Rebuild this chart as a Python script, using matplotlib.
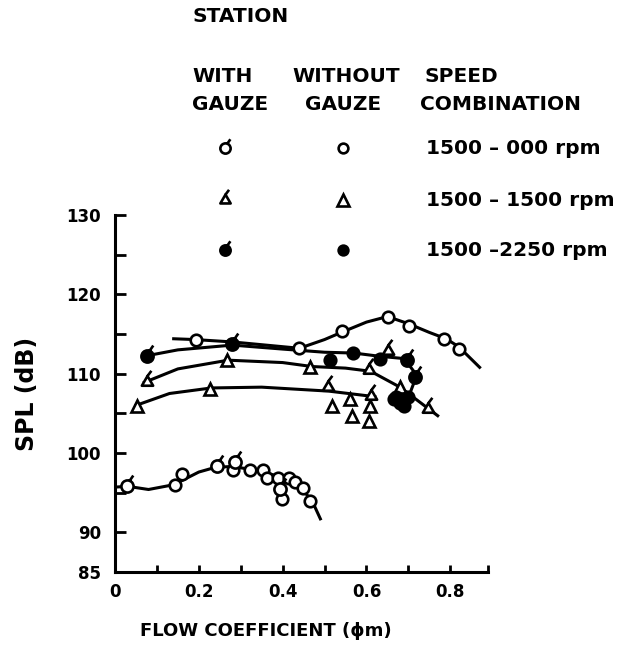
import numpy as np
import matplotlib.pyplot as plt
from matplotlib.path import Path
from matplotlib.lines import Line2D

# ---- faired curves (flow coefficient, SPL dB) ----
hi000_cx = [0.14, 0.19, 0.28, 0.36, 0.44, 0.50, 0.54, 0.60, 0.65, 0.70, 0.75, 0.79, 0.82, 0.87]
hi000_cy = [114.4, 114.3, 114.0, 113.6, 113.2, 114.3, 115.2, 116.5, 117.2, 116.3, 115.2, 114.4, 113.4, 110.8]

lo000_cx = [0.0, 0.03, 0.08, 0.14, 0.20, 0.24, 0.28, 0.34, 0.40, 0.44, 0.47, 0.49]
lo000_cy = [95.7, 95.8, 95.4, 96.0, 97.6, 98.2, 98.3, 97.8, 96.9, 95.8, 94.0, 91.7]

hi1500_cx = [0.07, 0.15, 0.27, 0.40, 0.47, 0.55, 0.61, 0.68, 0.75, 0.77]
hi1500_cy = [108.9, 110.6, 111.7, 111.4, 110.9, 110.7, 110.3, 108.3, 105.5, 104.7]

lo1500_cx = [0.05, 0.13, 0.23, 0.35, 0.51, 0.62]
lo1500_cy = [106.0, 107.5, 108.2, 108.3, 107.8, 107.1]

s2250_cx = [0.07, 0.15, 0.28, 0.40, 0.50, 0.57, 0.63, 0.69, 0.72, 0.70]
s2250_cy = [112.2, 113.0, 113.6, 113.1, 112.7, 112.6, 112.2, 111.9, 109.8, 107.0]

# ---- measured points ----
# 1500-000 rpm
c000_wo_x = [0.193, 0.44, 0.541, 0.652, 0.702, 0.786, 0.821,
             0.143, 0.159, 0.282, 0.322, 0.354, 0.362, 0.39, 0.398, 0.414, 0.43, 0.449, 0.465]
c000_wo_y = [114.3, 113.2, 115.4, 117.2, 116.0, 114.4, 113.1,
             96.0, 97.3, 97.9, 97.9, 97.9, 96.9, 96.9, 94.2, 96.9, 96.4, 95.6, 94.0]
c000_w_x = [0.028, 0.243, 0.286, 0.394]
c000_w_y = [95.8, 98.3, 98.9, 95.4]

# 1500-1500 rpm
c1500_wo_x = [0.267, 0.465, 0.68, 0.052, 0.227, 0.517, 0.561, 0.565, 0.609, 0.605]
c1500_wo_y = [111.7, 110.9, 108.3, 105.9, 108.1, 105.9, 106.8, 104.7, 105.9, 104.0]
c1500_w_x = [0.076, 0.605, 0.652, 0.748, 0.509, 0.61]
c1500_w_y = [108.9, 110.4, 112.9, 105.5, 108.3, 107.2]

# 1500-2250 rpm
c2250_wo_x = [0.513, 0.569, 0.632, 0.67, 0.68, 0.69, 0.70, 0.665]
c2250_wo_y = [111.7, 112.6, 111.9, 107.0, 106.3, 105.9, 107.1, 106.8]
c2250_w_x = [0.076, 0.279, 0.696, 0.716]
c2250_w_y = [112.2, 113.8, 111.7, 109.6]

legend_rows = ["1500 \u2013 000 rpm", "1500 \u2013 1500 rpm", "1500 \u20132250 rpm"]

# markers with the little "gauze" flag stroke
tail = Path([(0.35, 0.94), (0.95, 1.8)], [Path.MOVETO, Path.LINETO])
circ_flag = Path.make_compound_path(Path.unit_circle(), tail)
tri = Path([(0, 1.0), (-0.87, -0.5), (0.87, -0.5), (0, 1.0)],
           [Path.MOVETO, Path.LINETO, Path.LINETO, Path.CLOSEPOLY])
tri_flag = Path.make_compound_path(tri, Path([(0, 1.0), (0.6, 1.8)], [Path.MOVETO, Path.LINETO]))
FLAG = 1.9  # path is rescaled by its largest vertex

fig = plt.figure(figsize=(6.44, 6.47), dpi=100)
ax = fig.add_axes([115/644, 75/647, 373/644, 357/647])

lw = 2.2
for cx, cy in [(hi000_cx, hi000_cy), (lo000_cx, lo000_cy), (hi1500_cx, hi1500_cy),
               (lo1500_cx, lo1500_cy), (s2250_cx, s2250_cy)]:
    ax.plot(cx, cy, color='black', linewidth=lw, zorder=2)

ms = 8.3
mew = 1.9
ax.plot(c000_wo_x, c000_wo_y, 'o', ms=ms, mfc='white', mec='black', mew=mew, zorder=3)
ax.plot(c000_w_x, c000_w_y, linestyle='none', marker=circ_flag, ms=ms*FLAG, mfc='white', mec='black', mew=mew, zorder=3)
ax.plot(c1500_wo_x, c1500_wo_y, '^', ms=ms+1, mfc='white', mec='black', mew=mew, zorder=3)
ax.plot(c1500_w_x, c1500_w_y, linestyle='none', marker=tri_flag, ms=(ms+1)*FLAG*0.95, mfc='white', mec='black', mew=mew, zorder=3)
ax.plot(c2250_wo_x, c2250_wo_y, 'o', ms=ms, mfc='black', mec='black', mew=mew, zorder=3)
ax.plot(c2250_w_x, c2250_w_y, linestyle='none', marker=circ_flag, ms=ms*FLAG, mfc='black', mec='black', mew=mew, zorder=3)

ax.set_xlim(0, 0.89)
ax.set_ylim(85, 130)
ax.spines['top'].set_visible(False)
ax.spines['right'].set_visible(False)
ax.spines['left'].set_linewidth(2.2)
ax.spines['bottom'].set_linewidth(2.2)

ax.set_xticks([0, 0.2, 0.4, 0.6, 0.8])
ax.set_xticklabels(['0', '0.2', '0.4', '0.6', '0.8'])
ax.set_xticks([0.1, 0.3, 0.5, 0.7, 0.89], minor=True)
ax.set_yticks([85, 90, 100, 110, 120, 130])
ax.set_yticks([95, 105, 115, 125], minor=True)
ax.tick_params(axis='y', which='both', direction='in', length=8, width=2, pad=10)
ax.tick_params(axis='x', which='both', direction='in', length=5, width=2, pad=8)
for lab in ax.get_xticklabels() + ax.get_yticklabels():
    lab.set_fontweight('bold')
    lab.set_fontsize(12)

ax.set_ylabel("SPL (dB)", fontsize=17, fontweight='bold', labelpad=20)
fig.text(266/644, 1 - 631/647, "FLOW COEFFICIENT (\u03d5m)", fontsize=13,
         fontweight='bold', ha='center', va='center')

# legend block drawn by hand, like the original
def fy(py):
    return 1 - py/647

fs = 14.5
fig.text(193/644, fy(16), "STATION", fontsize=fs, fontweight='bold', ha='left', va='center')
fig.text(192/644, fy(76), "WITH", fontsize=fs, fontweight='bold', ha='left', va='center')
fig.text(192/644, fy(104), "GAUZE", fontsize=fs, fontweight='bold', ha='left', va='center')
fig.text(292/644, fy(76), "WITHOUT", fontsize=fs, fontweight='bold', ha='left', va='center')
fig.text(305/644, fy(104), "GAUZE", fontsize=fs, fontweight='bold', ha='left', va='center')
fig.text(424/644, fy(76), "SPEED", fontsize=fs, fontweight='bold', ha='left', va='center')
fig.text(420/644, fy(104), "COMBINATION", fontsize=fs, fontweight='bold', ha='left', va='center')

row_y = [148, 200, 250]
sym_with = [dict(marker=circ_flag, ms=7*FLAG, mfc='white'),
            dict(marker=tri_flag, ms=8.5*FLAG*0.95, mfc='white'),
            dict(marker=circ_flag, ms=7*FLAG, mfc='black')]
sym_without = [dict(marker='o', ms=7, mfc='white'),
               dict(marker='^', ms=8.5, mfc='white'),
               dict(marker='o', ms=7, mfc='black')]
for py, sw, so, txt in zip(row_y, sym_with, sym_without, legend_rows):
    fig.add_artist(Line2D([225/644], [fy(py)], linestyle='none', mec='black', mew=1.9,
                          transform=fig.transFigure, **sw))
    fig.add_artist(Line2D([343/644], [fy(py)], linestyle='none', mec='black', mew=1.9,
                          transform=fig.transFigure, **so))
    fig.text(426/644, fy(py), txt, fontsize=fs, fontweight='bold', ha='left', va='center')

fig.savefig("out.png", dpi=100)
plt.close(fig)
